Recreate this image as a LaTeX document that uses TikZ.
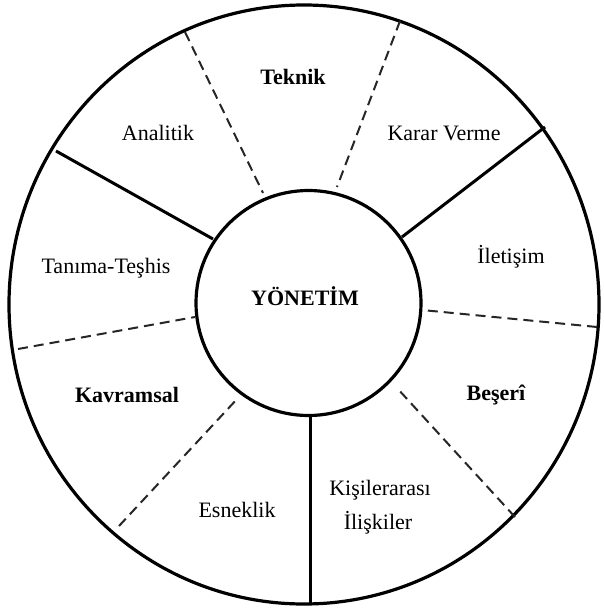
\documentclass[tikz,border=0pt]{standalone}
\usepackage{fontspec}
\setmainfont{Liberation Serif}
\usetikzlibrary{shapes.geometric}
\begin{document}
\begin{tikzpicture}[x=1pt,y=-1pt,
  rim/.style={draw, line width=3.2pt, inner sep=0pt},
  solidspoke/.style={line width=3pt},
  dashspoke/.style={line width=2pt, dash pattern=on 10pt off 6pt, black!85},
  lbl/.style={font=\fontsize{22}{26}\selectfont, anchor=base, inner sep=0pt},
  blbl/.style={font=\fontsize{22}{26}\selectfont\bfseries, anchor=base, inner sep=0pt}]
\useasboundingbox (0,0) rectangle (603,608);
% rings
\node[rim, ellipse, minimum width=590pt, minimum height=599pt] (outer) at (304,304.5) {};
\node[rim, circle, minimum size=225pt] (inner) at (308.5,303) {};
% spoke end points
\coordinate (s1o) at (56,151);   \coordinate (s1i) at (213,239);
\coordinate (s2o) at (545,127);  \coordinate (s2i) at (402,237);
\coordinate (s3o) at (310,603);  \coordinate (s3i) at (310,415);
\coordinate (d1o) at (185,32);   \coordinate (d1i) at (263,193);
\coordinate (d2o) at (400,21);   \coordinate (d2i) at (337,187);
\coordinate (d3o) at (18,349);   \coordinate (d3i) at (195,317);
\coordinate (d4o) at (597,327);  \coordinate (d4i) at (422,310);
\coordinate (d5o) at (119,526);  \coordinate (d5i) at (238,398);
\coordinate (d6o) at (515,517);  \coordinate (d6i) at (397,388);
% solid spokes
\draw[solidspoke] (s1o) -- (s1i);
\draw[solidspoke] (s2o) -- (s2i);
\draw[solidspoke] (s3o) -- (s3i);
% dashed spokes
\draw[dashspoke] (d1o) -- (d1i);
\draw[dashspoke] (d2o) -- (d2i);
\draw[dashspoke] (d3o) -- (d3i);
\draw[dashspoke] (d4o) -- (d4i);
\draw[dashspoke] (d5o) -- (d5i);
\draw[dashspoke] (d6o) -- (d6i);
% labels
\node[blbl] (teknik) at (293,84) {Teknik};
\node[lbl] (analitik) at (158,140) {Analitik};
\node[lbl] (karar) at (444,140) {Karar Verme};
\node[lbl] (tanima) at (106,273) {Tanıma-Teşhis};
\node[lbl] (iletisim) at (511,263) {İletişim};
\node[blbl] (yonetim) at (305,305) {YÖNETİM};
\node[blbl] (kavramsal) at (127,402) {Kavramsal};
\node[blbl] (beseri) at (496,400) {Beşerî};
\node[lbl] (esneklik) at (237,517) {Esneklik};
\node[lbl] (kisiler) at (380,495) {Kişilerarası};
\node[lbl] (iliskiler) at (378,529) {İlişkiler};
\end{tikzpicture}
\end{document}
